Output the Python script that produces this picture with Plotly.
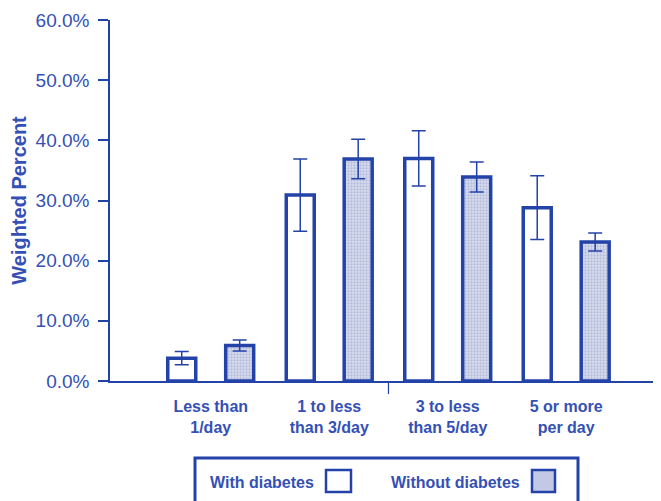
import plotly.graph_objects as go

categories = ["Less than<br>1/day", "1 to less<br>than 3/day", "3 to less<br>than 5/day", "5 or more<br>per day"]
with_diabetes = [3.8, 30.9, 37.0, 28.8]
with_err = [1.1, 6.0, 4.6, 5.3]
without_diabetes = [5.9, 36.9, 33.9, 23.1]
without_err = [0.9, 3.3, 2.5, 1.5]
y_ticks = [0, 10, 20, 30, 40, 50, 60]
y_ticktext = ["0.0%", "10.0%", "20.0%", "30.0%", "40.0%", "50.0%", "60.0%"]
series_names = ["With diabetes", "Without diabetes"]

BLUE = "#2443a8"
TXT = "#3550b5"
FONT = "Liberation Sans, Arial, sans-serif"
xpos = list(range(len(categories)))

fig = go.Figure()
fig.add_trace(go.Bar(
    x=xpos, y=with_diabetes, name=series_names[0],
    marker=dict(color="#ffffff", line=dict(color=BLUE, width=3.5)),
    error_y=dict(type="data", array=with_err, visible=True, color=BLUE, thickness=1.5, width=7),
))
fig.add_trace(go.Bar(
    x=xpos, y=without_diabetes, name=series_names[1],
    marker=dict(color="#d0d5ea", line=dict(color=BLUE, width=3.5),
                pattern=dict(shape=".", fgcolor="#8e98c8", bgcolor="#dadeee", size=3, solidity=0.45)),
    error_y=dict(type="data", array=without_err, visible=True, color=BLUE, thickness=1.5, width=7),
))

# page has an 8px body margin; figure is sized to fit inside the window
OFF = 8
W, H = 661 - OFF, 501 - OFF
L, R, T = 110 - OFF, 0, 20 - OFF
B = H - (381 - OFF)
pw, ph = W - L - R, H - T - B

def px(xw):
    return (xw - OFF - L) / pw

def py(yw):
    return (H - B - (yw - OFF)) / ph

shapes = [
    dict(type="rect", xref="paper", yref="paper", x0=px(195), x1=px(578), y0=py(512), y1=py(458),
         line=dict(color=BLUE, width=3), fillcolor="rgba(0,0,0,0)"),
    dict(type="rect", xref="paper", yref="paper", x0=px(326), x1=px(351), y0=py(492), y1=py(470),
         line=dict(color=BLUE, width=2.5), fillcolor="#ffffff"),
    dict(type="rect", xref="paper", yref="paper", x0=px(532), x1=px(555), y0=py(492), y1=py(470),
         line=dict(color=BLUE, width=2.5), fillcolor="#c3c9e4"),
    dict(type="line", xref="x", yref="paper", x0=1.5, x1=1.5, y0=0, y1=py(394),
         line=dict(color=BLUE, width=1.2)),
]
annotations = [
    dict(xref="paper", yref="paper", x=px(208), y=py(482), xanchor="left", yanchor="middle",
         text=series_names[0], showarrow=False, font=dict(family=FONT, size=16, color=TXT, weight="bold")),
    dict(xref="paper", yref="paper", x=px(389), y=py(482), xanchor="left", yanchor="middle",
         text=series_names[1], showarrow=False, font=dict(family=FONT, size=16, color=TXT, weight="bold")),
]

fig.update_layout(
    width=W, height=H,
    margin=dict(l=L, r=R, t=T, b=B, pad=0),
    paper_bgcolor="#ffffff", plot_bgcolor="rgba(0,0,0,0)",
    barmode="group", bargap=0.022, bargroupgap=0.517,
    showlegend=False,
    shapes=shapes, annotations=annotations,
    xaxis=dict(
        range=[-0.85, 3.8], tickvals=xpos, ticktext=categories,
        showline=True, linecolor=BLUE, linewidth=1.5, ticks="", showgrid=False, zeroline=False,
        tickfont=dict(family=FONT, size=16, color=TXT, weight="bold"),
        ticklabelstandoff=10,
    ),
    yaxis=dict(
        range=[0, 60], tickvals=y_ticks, ticktext=y_ticktext,
        showline=True, linecolor=BLUE, linewidth=1.5, ticks="outside", ticklen=10,
        tickcolor=BLUE, tickwidth=1.5, showgrid=False, zeroline=False,
        tickfont=dict(family=FONT, size=19, color=TXT),
        ticklabelstandoff=5,
        title=dict(text="Weighted Percent", font=dict(family=FONT, size=20, color=TXT, weight="bold"), standoff=6),
    ),
)

fig.write_html("out.html")
